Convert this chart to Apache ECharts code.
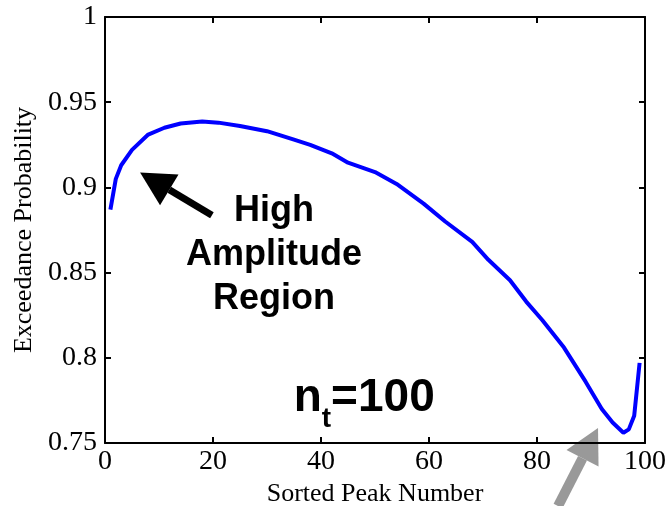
<!DOCTYPE html>
<html>
<head>
<meta charset="utf-8">
<script src="https://cdn.jsdelivr.net/npm/echarts@6/dist/echarts.min.js"></script>
<style>
  html, body { margin: 0; padding: 0; background: #fff; }
  #chart { width: 668px; height: 506px; }
</style>
</head>
<body>
<div id="chart"></div>
<script>
// values
const peakNo = [1, 2, 3, 5, 8, 11, 14, 18, 21, 25, 30, 35, 38, 42, 45, 50, 54, 59, 63, 68, 71, 75, 78, 81, 85, 89, 92, 94, 96, 97, 98, 99]
const exceedProb = [0.887, 0.905, 0.913, 0.922, 0.931, 0.935, 0.9375, 0.9387, 0.938, 0.936, 0.933, 0.928, 0.925, 0.920, 0.9145, 0.909, 0.902, 0.8905, 0.880, 0.868, 0.8575, 0.8455, 0.833, 0.822, 0.806, 0.786, 0.770, 0.762, 0.756, 0.758, 0.766, 0.797]
const xTicks = [0, 20, 40, 60, 80, 100]
const yTicks = [0.75, 0.8, 0.85, 0.9, 0.95, 1]

// annotations, in data coordinates
const blackArrow = [[19.8, 0.8836], [6.5, 0.9088]]   // tail, tip
const grayArrow = [[83.9, 0.713], [91.3, 0.7588]]
const regionLabel = { at: [31.3, 0.8602], lines: ['High', 'Amplitude', 'Region'] }
const ntLabel = { at: [48, 0.7558], base: 'n', sub: 't', rest: '=100' }

const chart = echarts.init(document.getElementById('chart'))

const serif = 'Liberation Serif, Times New Roman, serif'
const boxAxis = {
  axisLine: { show: true, onZero: false, lineStyle: { color: '#000', width: 2 } },
  axisTick: { show: true, inside: true, length: 6, lineStyle: { color: '#000', width: 2 } },
  splitLine: { show: false }
}

chart.setOption({
  animation: false,
  grid: { left: 105, right: 23, top: 17, bottom: 63, outerBoundsMode: 'none', containLabel: false },
  xAxis: [
    Object.assign({}, boxAxis, {
      type: 'value', position: 'bottom', min: xTicks[0], max: xTicks[xTicks.length - 1], interval: 20,
      name: 'Sorted Peak Number', nameLocation: 'middle', nameGap: 33,
      nameTextStyle: { fontFamily: serif, fontSize: 26, color: '#000' },
      axisLabel: { fontFamily: serif, fontSize: 28, color: '#000', margin: 5 }
    }),
    Object.assign({}, boxAxis, { type: 'value', position: 'top', min: 0, max: 100, interval: 20, axisLabel: { show: false } })
  ],
  yAxis: [
    Object.assign({}, boxAxis, {
      type: 'value', position: 'left', min: yTicks[0], max: yTicks[yTicks.length - 1], interval: 0.05,
      name: 'Exceedance Probability', nameLocation: 'middle', nameGap: 68,
      nameTextStyle: { fontFamily: serif, fontSize: 26, color: '#000' },
      axisLabel: { fontFamily: serif, fontSize: 28, color: '#000', margin: 8 }
    }),
    Object.assign({}, boxAxis, {
      type: 'value', position: 'right', min: 0.75, max: 1, interval: 0.05, axisLabel: { show: false }
    })
  ],
  series: [
    {
      type: 'line',
      xAxisIndex: 0,
      yAxisIndex: 0,
      data: peakNo.map((p, i) => [p, exceedProb[i]]),
      showSymbol: false,
      lineStyle: { color: '#0000ff', width: 4 }
    }
  ]
})

function px(pt) {
  return chart.convertToPixel({ xAxisIndex: 0, yAxisIndex: 0 }, pt)
}

// shaft + triangular head
function arrow(pts, color, width, headLen, headHalf) {
  const a = px(pts[0])
  const b = px(pts[1])
  const dx = b[0] - a[0], dy = b[1] - a[1]
  const len = Math.sqrt(dx * dx + dy * dy)
  const ux = dx / len, uy = dy / len
  const base = [b[0] - ux * headLen, b[1] - uy * headLen]
  return {
    type: 'group',
    children: [
      {
        type: 'line',
        shape: { x1: a[0], y1: a[1], x2: base[0], y2: base[1] },
        style: { stroke: color, lineWidth: width }
      },
      {
        type: 'polygon',
        shape: {
          points: [b, [base[0] - uy * headHalf, base[1] + ux * headHalf], [base[0] + uy * headHalf, base[1] - ux * headHalf]]
        },
        style: { fill: color }
      }
    ]
  }
}

const rp = px(regionLabel.at)
const np = px(ntLabel.at)

chart.setOption({
  graphic: [
    arrow(blackArrow, '#000', 7, 34, 18),
    arrow(grayArrow, '#999', 10, 34, 18),
    {
      type: 'text',
      x: rp[0], y: rp[1],
      style: {
        text: regionLabel.lines.join('\n'),
        fontFamily: 'Liberation Sans, Arial, sans-serif',
        fontWeight: 'bold', fontSize: 36, lineHeight: 44,
        fill: '#000', align: 'center', verticalAlign: 'middle'
      }
    },
    {
      type: 'text',
      x: np[0], y: np[1],
      style: {
        text: '{n|' + ntLabel.base + '}{t|' + ntLabel.sub + '}{n|' + ntLabel.rest + '}',
        align: 'center', verticalAlign: 'bottom',
        rich: {
          n: { fontFamily: 'Liberation Sans, Arial, sans-serif', fontWeight: 'bold', fontSize: 46, lineHeight: 46, padding: [0, 0, 12, 0], verticalAlign: 'bottom', fill: '#000' },
          t: { fontFamily: 'Liberation Sans, Arial, sans-serif', fontWeight: 'bold', fontSize: 28, lineHeight: 28, padding: [17, 0, 0, 0], verticalAlign: 'bottom', fill: '#000' }
        }
      }
    }
  ]
})
</script>
</body>
</html>
